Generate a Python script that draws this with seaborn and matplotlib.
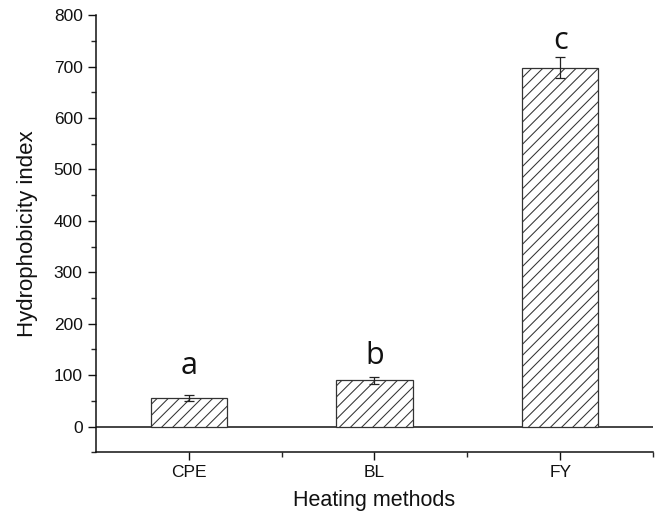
import numpy as np
import pandas as pd
import matplotlib
matplotlib.use("Agg")
import matplotlib.pyplot as plt
import seaborn as sns

methods = ["CPE", "BL", "FY"]
index_mean = [56, 90, 698]
index_err = [6, 7, 20]
letters = ["a", "b", "c"]
letter_y = [103, 122, 735]

sns.set_style("ticks")
plt.rcParams["font.family"] = ["Liberation Sans", "DejaVu Sans"]
plt.rcParams["hatch.linewidth"] = 0.75

df = pd.DataFrame({"method": methods, "value": index_mean})

fig = plt.figure(figsize=(6.57, 5.21), dpi=100)
ax = fig.add_axes([0.146, 0.132, 0.848, 0.839])

sns.barplot(data=df, x="method", y="value", ax=ax, color="white",
            edgecolor="#333333", linewidth=0.9, width=0.41, errorbar=None,
            hatch="///", zorder=2)

xpos = np.arange(len(methods))
ax.errorbar(xpos, index_mean, yerr=index_err, fmt="none", ecolor="#222222",
            elinewidth=0.9, capsize=3.5, capthick=0.9, zorder=3)

ax.axhline(0, color="#111111", linewidth=1.1, zorder=1)

for x, lab, y in zip(xpos, letters, letter_y):
    ax.text(x, y, lab, ha="center", va="baseline", fontsize=22,
            family=["Open Sans", "DejaVu Sans"], color="#111111")

ax.set_xlim(-0.5, 2.5)
ax.set_ylim(-50, 800)
ax.set_yticks(np.arange(0, 801, 100))
ax.set_yticks(np.arange(-50, 801, 50), minor=True)
ax.set_xticks(xpos)
ax.set_xticks([0.5, 1.5, 2.5], minor=True)
ax.tick_params(axis="both", which="major", length=5.5, width=1, labelsize=12.5,
               colors="#111111", direction="out", pad=4)
ax.tick_params(axis="both", which="minor", length=3.5, width=1, direction="out")

ax.set_xlabel("Heating methods", fontsize=15.5, labelpad=7, color="#111111")
ax.set_ylabel("Hydrophobicity index", fontsize=16, labelpad=11, color="#111111")

sns.despine(ax=ax, top=True, right=True)
for s in ["left", "bottom"]:
    ax.spines[s].set_linewidth(1.1)
    ax.spines[s].set_color("#111111")

fig.savefig("out.png", dpi=100)
